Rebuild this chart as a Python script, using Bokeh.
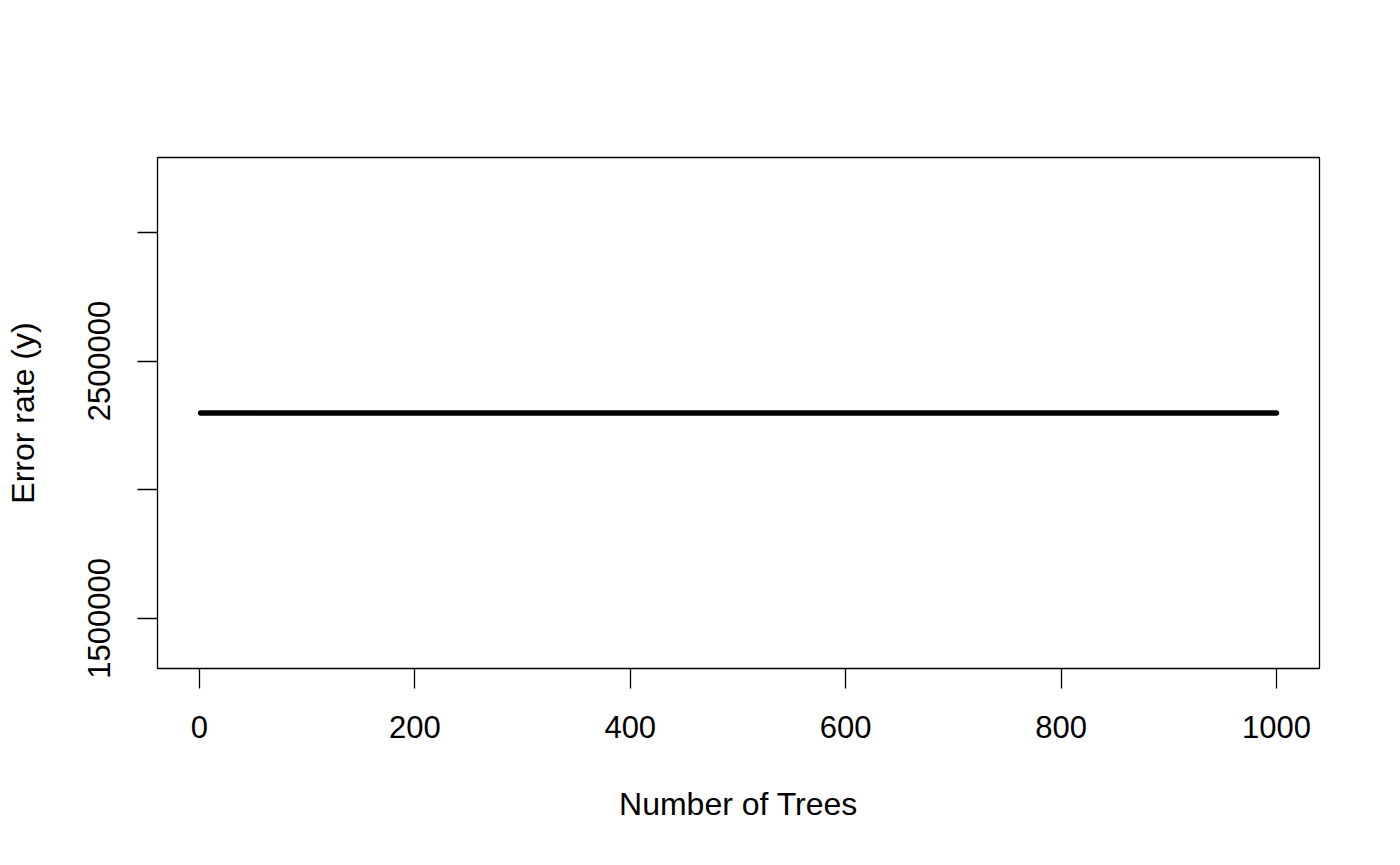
from bokeh.plotting import figure
from bokeh.models import Range1d, FixedTicker
from bokeh.embed import file_html
from bokeh.resources import INLINE

# Data
n_trees = [1, 1000]
error_rate = [2298000, 2298000]
x_ticks = [0, 200, 400, 600, 800, 1000]
y_ticks = [1500000, 2000000, 2500000, 3000000]
y_tick_labels = {1500000: "1500000", 2000000: "", 2500000: "2500000", 3000000: ""}

FONT = "Liberation Sans"

p = figure(width=1384, height=849, output_backend="svg", toolbar_location=None,
           x_range=Range1d(-38.96, 1039.96), y_range=Range1d(1305264, 3290736),
           min_border_left=157, min_border_right=65, min_border_top=157, min_border_bottom=181)

p.line(n_trees, error_rate, line_color="black", line_width=5.5, line_cap="round")

p.background_fill_color = "white"
p.border_fill_color = "white"
p.outline_line_color = "black"
p.outline_line_width = 1.3
p.xgrid.visible = False
p.ygrid.visible = False

p.xaxis.ticker = FixedTicker(ticks=x_ticks)
p.yaxis.ticker = FixedTicker(ticks=y_ticks)
p.yaxis.major_label_overrides = {k: v for k, v in y_tick_labels.items()}

for ax in (p.xaxis[0], p.yaxis[0]):
    ax.axis_line_color = None
    ax.major_tick_in = 0
    ax.major_tick_out = 20
    ax.major_tick_line_color = "black"
    ax.major_tick_line_width = 1.3
    ax.minor_tick_line_color = None
    ax.major_label_text_font = FONT
    ax.major_label_text_font_size = "31px"
    ax.major_label_text_color = "black"
    ax.axis_label_text_font = FONT
    ax.axis_label_text_font_size = "32px"
    ax.axis_label_text_font_style = "normal"
    ax.axis_label_text_color = "black"

p.xaxis.axis_label = "Number of Trees"
p.yaxis.axis_label = "Error rate (y)"
p.xaxis.major_label_standoff = 27
p.xaxis.axis_label_standoff = 45
p.yaxis.major_label_orientation = "vertical"
p.yaxis.major_label_standoff = 27
p.yaxis.axis_label_standoff = 45

open("out.html", "w").write(file_html(p, INLINE))
